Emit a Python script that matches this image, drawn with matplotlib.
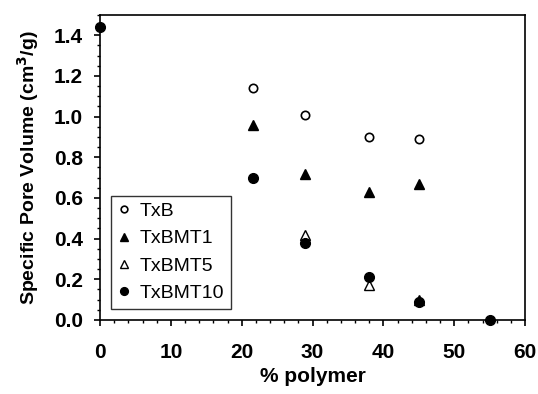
import matplotlib
matplotlib.use("Agg")
import matplotlib.pyplot as plt
from matplotlib.ticker import MultipleLocator

plt.rcParams["font.family"] = ["Liberation Sans", "DejaVu Sans"]

# data
txb_x = [21.6, 29.0, 38.0, 45.0]
txb_y = [1.14, 1.01, 0.90, 0.89]

txbmt1_x = [21.6, 29.0, 38.0, 45.0]
txbmt1_y = [0.96, 0.72, 0.63, 0.67]

txbmt5_x = [29.0, 38.0, 45.0]
txbmt5_y = [0.42, 0.17, 0.10]

txbmt10_x = [0.0, 21.6, 29.0, 38.0, 45.0, 55.1]
txbmt10_y = [1.44, 0.70, 0.38, 0.21, 0.09, 0.0]

fig = plt.figure(figsize=(5.38, 3.94), dpi=100)
ax = fig.add_axes([0.186, 0.188, 0.79, 0.774])

ms = 6
ax.plot(txb_x, txb_y, "o", mfc="white", mec="black", mew=1.2, ms=ms, label="TxB", clip_on=False, zorder=3)
ax.plot(txbmt1_x, txbmt1_y, "^", mfc="black", mec="black", ms=ms + 1, label="TxBMT1", clip_on=False, zorder=3)
ax.plot(txbmt5_x, txbmt5_y, "^", mfc="white", mec="black", mew=1.0, ms=ms + 1, label="TxBMT5", clip_on=False, zorder=3)
ax.plot(txbmt10_x, txbmt10_y, "o", mfc="black", mec="black", ms=ms + 1, label="TxBMT10", clip_on=False, zorder=4)

ax.set_xlim(0, 60)
ax.set_ylim(0, 1.5)
ax.set_yticks([0.0, 0.2, 0.4, 0.6, 0.8, 1.0, 1.2, 1.4])
ax.xaxis.set_major_locator(MultipleLocator(10))
ax.xaxis.set_minor_locator(MultipleLocator(2))
ax.yaxis.set_minor_locator(MultipleLocator(0.05))
ax.yaxis.set_major_formatter(plt.FormatStrFormatter("%.1f"))

ax.tick_params(which="major", direction="out", length=4.5, width=1.2, labelsize=15)
ax.tick_params(which="minor", direction="out", length=2.5, width=1.0)
ax.tick_params(axis="x", which="major", pad=12)
ax.tick_params(axis="y", which="major", pad=8)
for lbl in ax.get_xticklabels() + ax.get_yticklabels():
    lbl.set_fontweight("bold")
for sp in ax.spines.values():
    sp.set_linewidth(1.2)

ax.set_xlabel("% polymer", fontsize=15, fontweight="bold", labelpad=4)
ax.set_ylabel("Specific Pore Volume (cm$^\\mathbf{3}$/g)", fontsize=14, fontweight="bold", labelpad=9)

leg = ax.legend(loc="lower left", bbox_to_anchor=(0.026, 0.036), fontsize=14, frameon=True,
                fancybox=False, edgecolor="black", handlelength=0.6, handletextpad=0.5,
                labelspacing=0.5, borderpad=0.35, borderaxespad=0, markerscale=0.8)
leg.get_frame().set_linewidth(1.0)

fig.savefig("out.png", dpi=100)
